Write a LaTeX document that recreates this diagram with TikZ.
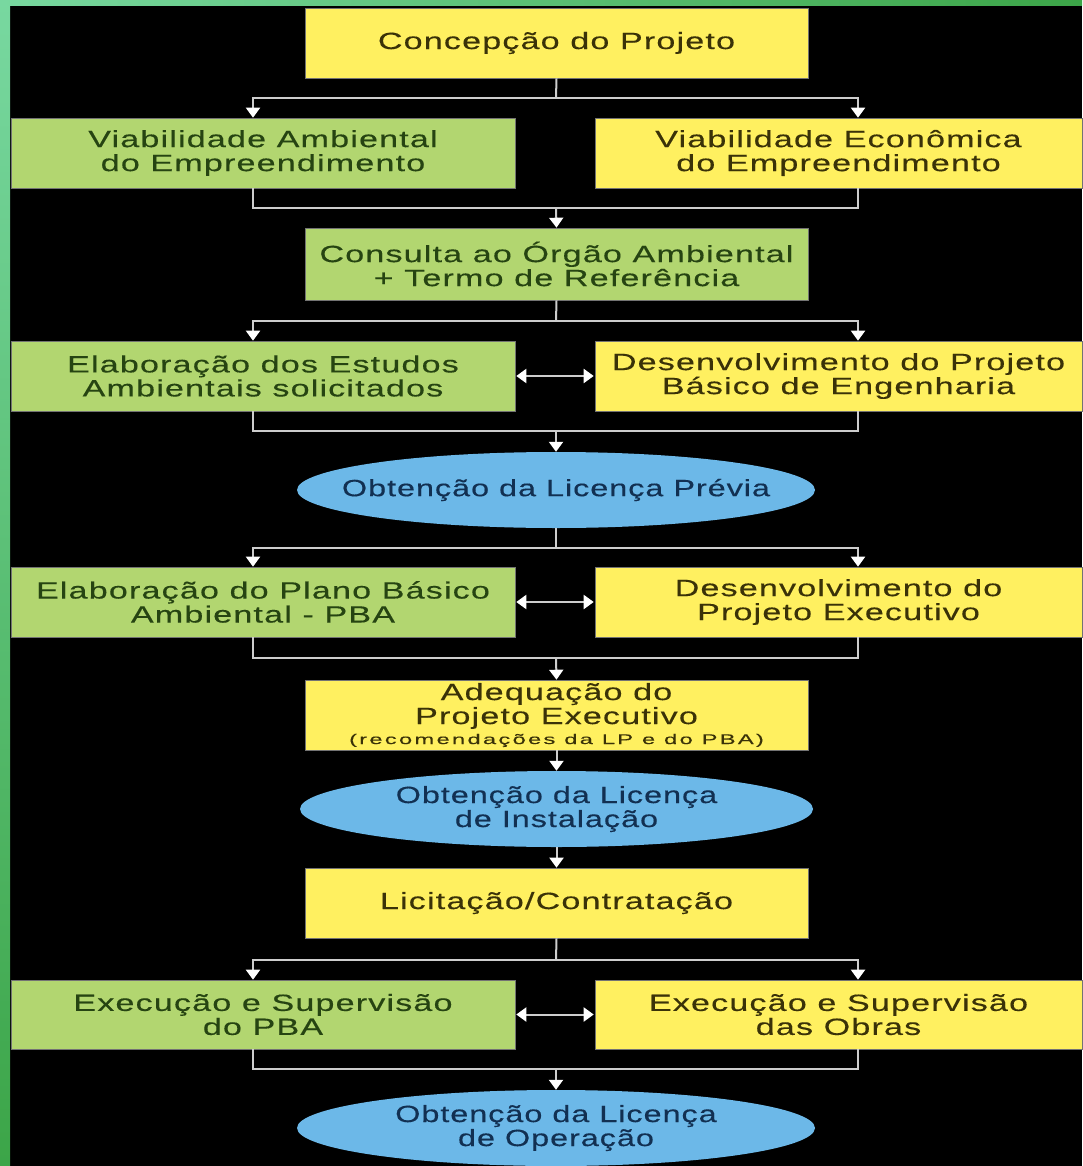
\documentclass[tikz,border=0pt]{standalone}
\usepackage{fontspec}
\newfontfamily\wf[FakeStretch=1.45,LetterSpace=5,FakeBold=0.3]{Liberation Sans}
\newfontfamily\wfe[FakeStretch=1.38,LetterSpace=4,FakeBold=0.3]{Liberation Sans}
\newfontfamily\wfs[FakeStretch=1.7,LetterSpace=16,FakeBold=0.2]{Liberation Sans}
\usetikzlibrary{arrows.meta,shapes.geometric,calc}
\definecolor{ybg}{RGB}{255,240,96}
\definecolor{gbg}{RGB}{178,214,112}
\definecolor{bbg}{RGB}{108,184,232}
\definecolor{ytx}{RGB}{58,50,8}
\definecolor{gtx}{RGB}{38,68,18}
\definecolor{btx}{RGB}{18,48,82}
\definecolor{lin}{RGB}{205,205,205}
\definecolor{mint}{RGB}{120,216,160}
\definecolor{grn}{RGB}{60,165,72}
\begin{document}
\begin{tikzpicture}[x=1pt,y=-1pt,
  txt/.style={align=center,inner sep=0pt,font=\wf\fontsize{23.5}{24}\selectfont},
  box/.style={rectangle,draw=black!55,line width=0.6pt,inner sep=0pt,minimum height=70pt},
  ybox/.style={box,fill=ybg,minimum width=503pt},
  gbox/.style={box,fill=gbg,minimum width=503pt},
  lbox/.style={box,fill=gbg,minimum width=504pt},
  rbox/.style={box,fill=ybg,minimum width=487pt},
  ell/.style={ellipse,fill=bbg,inner sep=0pt,minimum width=518pt,minimum height=76pt},
  yt/.style={txt,text=ytx},
  gt/.style={txt,text=gtx},
  bt/.style={txt,text=btx,font=\wfe\fontsize{23.5}{24}\selectfont},
  line/.style={draw=lin,line width=2pt},
  arr/.style={line,-{Triangle[width=14pt,length=10pt,color=white]}},
  dbl/.style={line,{Triangle[width=14pt,length=10pt,color=white]}-{Triangle[width=14pt,length=10pt,color=white]},shorten <=1pt,shorten >=1pt}
]
\useasboundingbox (0,0) rectangle (1082,1166);
\fill[black] (0,0) rectangle (1082,1166);
\shade[top color=mint,bottom color=grn] (0,0) rectangle (10,1166);
\shade[left color=mint,right color=grn] (0,0) rectangle (1082,6);

\coordinate (Lx) at (253,0);
\coordinate (Rx) at (858,0);

% nodes
\node[ybox,label={[yt]center:Concepção do Projeto}] (A) at (556.5,43) {};
\node[lbox,label={[gt]center:{Viabilidade Ambiental\\do Empreendimento}}] (B1) at (263,153) {};
\node[rbox,label={[yt]center:{Viabilidade Econômica\\do Empreendimento}}] (B2) at (838.5,153) {};
\node[gbox,minimum height=72pt,label={[gt]center:{Consulta ao Órgão Ambiental\\+ Termo de Referência}}] (C) at (556.5,264) {};
\node[lbox,label={[gt]center:{Elaboração dos Estudos\\Ambientais solicitados}}] (D1) at (263,376) {};
\node[rbox,label={[yt]center:{Desenvolvimento do Projeto\\Básico de Engenharia}}] (D2) at (838.5,376) {};
\node[ell,label={[bt]center:Obtenção da Licença Prévia}] (E) at (556,490) {};
\node[lbox,label={[gt]center:{Elaboração do Plano Básico\\Ambiental - PBA}}] (F1) at (263,602) {};
\node[rbox,label={[yt]center:{Desenvolvimento do\\Projeto Executivo}}] (F2) at (838.5,602) {};
\node[ybox,label={[yt]center:{Adequação do\\Projeto Executivo\\[-4pt]{\wfs\fontsize{14}{15}\selectfont (recomendações da LP e do PBA)}}}] (G) at (556.5,715) {};
\node[ell,minimum width=513pt,label={[bt]center:{Obtenção da Licença\\de Instalação}}] (H) at (556.5,809) {};
\node[ybox,label={[yt]center:Licitação/Contratação}] (I) at (556.5,903) {};
\node[lbox,minimum height=69pt,label={[gt]center:{Execução e Supervisão\\do PBA}}] (J1) at (263,1014.5) {};
\node[rbox,minimum height=69pt,label={[yt]center:{Execução e Supervisão\\das Obras}}] (J2) at (838.5,1014.5) {};
\node[ell,label={[bt]center:{Obtenção da Licença\\de Operação}}] (K) at (556,1128) {};

% junctions
\coordinate (j1) at (556,98);
\coordinate (j2) at (556,208);
\coordinate (j3) at (556,321);
\coordinate (j4) at (556,431);
\coordinate (j5) at (556,548);
\coordinate (j6) at (556,658);
\coordinate (j7) at (556,960);
\coordinate (j8) at (556,1069);

% connectors
\draw[line] (A.south) -- (j1);
\draw[arr] (j1) -| (Lx |- B1.north);
\draw[arr] (j1) -| (Rx |- B2.north);
\draw[line] (Lx |- B1.south) |- (j2) -| (Rx |- B2.south);
\draw[arr] (j2) -- (C.north);

\draw[line] (C.south) -- (j3);
\draw[arr] (j3) -| (Lx |- D1.north);
\draw[arr] (j3) -| (Rx |- D2.north);
\draw[dbl] (D1.east) -- (D2.west);
\draw[line] (Lx |- D1.south) |- (j4) -| (Rx |- D2.south);
\draw[arr] (j4) -- (E.north);

\draw[line] (E.south) -- (j5);
\draw[arr] (j5) -| (Lx |- F1.north);
\draw[arr] (j5) -| (Rx |- F2.north);
\draw[dbl] (F1.east) -- (F2.west);
\draw[line] (Lx |- F1.south) |- (j6) -| (Rx |- F2.south);
\draw[arr] (j6) -- (G.north);

\draw[arr] (G.south) -- (H.north);
\draw[arr] (H.south) -- (I.north);

\draw[line] (I.south) -- (j7);
\draw[arr] (j7) -| (Lx |- J1.north);
\draw[arr] (j7) -| (Rx |- J2.north);
\draw[dbl] (J1.east) -- (J2.west);
\draw[line] (Lx |- J1.south) |- (j8) -| (Rx |- J2.south);
\draw[arr] (j8) -- (K.north);
\end{tikzpicture}
\end{document}
